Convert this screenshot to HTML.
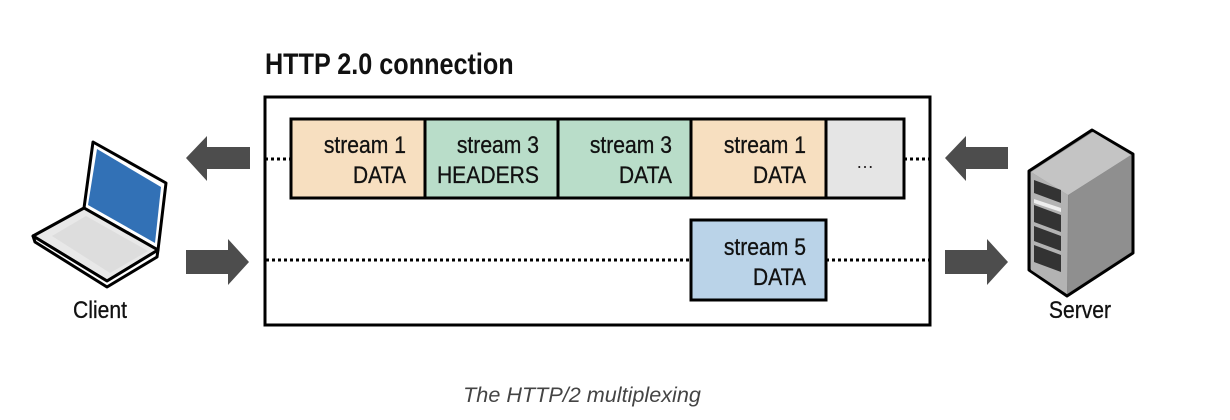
<!DOCTYPE html>
<html><head><meta charset="utf-8"><style>
html,body{margin:0;padding:0;background:#fff;}
svg{display:block}
.t{font-family:"Liberation Sans Narrow","Liberation Sans",sans-serif;font-size:24px;fill:#111;stroke:#111;stroke-width:0.3;}
</style></head><body>
<svg width="1230" height="420" viewBox="0 0 1230 420" xmlns="http://www.w3.org/2000/svg">
<text x="265" y="74" font-family="Liberation Sans Narrow, Liberation Sans, sans-serif" font-size="30" font-weight="bold" fill="#111" transform="translate(265,0) scale(0.84,1) translate(-265,0)">HTTP 2.0 connection</text>
<rect x="265" y="97" width="665" height="228" fill="none" stroke="#000" stroke-width="3"/>
<g stroke="#000" stroke-width="3" stroke-dasharray="3 3">
<line x1="265" y1="159" x2="291" y2="159"/>
<line x1="904" y1="159" x2="930" y2="159"/>
<line x1="266" y1="260" x2="691" y2="260"/>
<line x1="826" y1="260" x2="930" y2="260"/>
</g>
<g stroke="#000" stroke-width="3">
<rect x="291" y="119" width="134" height="79" fill="#f7dfc0"/>
<rect x="425" y="119" width="133" height="79" fill="#b9ddc9"/>
<rect x="558" y="119" width="133" height="79" fill="#b9ddc9"/>
<rect x="691" y="119" width="135" height="79" fill="#f7dfc0"/>
<rect x="826" y="119" width="78" height="79" fill="#e5e5e5"/>
<rect x="691" y="220" width="135" height="80" fill="#bad3e8"/>
</g>
<g class="t" text-anchor="end">
<text x="406" y="153" transform="translate(406,0) scale(0.88,1) translate(-406,0)">stream 1</text>
<text x="406" y="183" transform="translate(406,0) scale(0.88,1) translate(-406,0)">DATA</text>
<text x="539" y="153" transform="translate(539,0) scale(0.88,1) translate(-539,0)">stream 3</text>
<text x="539" y="183" transform="translate(539,0) scale(0.88,1) translate(-539,0)">HEADERS</text>
<text x="672" y="153" transform="translate(672,0) scale(0.88,1) translate(-672,0)">stream 3</text>
<text x="672" y="183" transform="translate(672,0) scale(0.88,1) translate(-672,0)">DATA</text>
<text x="806" y="153" transform="translate(806,0) scale(0.88,1) translate(-806,0)">stream 1</text>
<text x="806" y="183" transform="translate(806,0) scale(0.88,1) translate(-806,0)">DATA</text>
<text x="806" y="255" transform="translate(806,0) scale(0.88,1) translate(-806,0)">stream 5</text>
<text x="806" y="285" transform="translate(806,0) scale(0.88,1) translate(-806,0)">DATA</text>
</g>
<text x="865" y="168" text-anchor="middle" font-family="Liberation Sans" font-size="18" fill="#231f20">…</text>
<g fill="#4d4d4d">
<polygon points="186,158 207,136 207,147 250,147 250,169 207,169 207,181"/>
<polygon points="186,250 228,250 228,239 249,262 228,285 228,274 186,274"/>
<polygon points="945,158 966,136 966,147 1008,147 1008,169 966,169 966,181"/>
<polygon points="945,250 987,250 987,239 1008,262 987,285 987,274 945,274"/>
</g>
<!-- laptop -->
<g stroke="#000" stroke-width="3" stroke-linejoin="round">
<polygon points="93,142 166,183 158,250 84,208" fill="#fff"/>
<polygon points="33,236 84,208 158,250 107,281" fill="#e8e8e8"/>
<polygon points="33,236 35,242 107,287 157,257 158,250 107,281" fill="#fff"/>
</g>
<polygon points="97,149 161,187 155,243 88,205" fill="#3271b6"/>
<polygon points="52,236 86,216 148,251 110,273" fill="#ddd"/>
<text x="100" y="318" text-anchor="middle" class="t" transform="translate(100,0) scale(0.88,1) translate(-100,0)">Client</text>
<!-- server -->
<g stroke="#000" stroke-width="3" stroke-linejoin="round">
<polygon points="1029,171 1092,130 1133,154 1133,253 1067,296 1029,270" fill="#8a8a8a"/>
</g>
<polygon points="1031,172 1093,132 1131,155 1068,195" fill="#c4c4c4"/>
<polygon points="1031,172 1068,195 1067,294 1031,270" fill="#b3b3b3"/>
<polygon points="1069,195 1131,155 1131,252 1068,293" fill="#8f8f8f"/>
<g fill="#333">
<polygon points="1034,180 1061,190 1061,203 1034,193"/>
<polygon points="1034,205 1061,215 1061,232 1034,222"/>
<polygon points="1034,226 1061,236 1061,251 1034,241"/>
<polygon points="1034,245 1061,255 1061,272 1034,262"/>
</g>
<polygon points="1034,199 1061,208 1061,212 1034,203" fill="#eee"/>
<text x="1080" y="318" text-anchor="middle" class="t" transform="translate(1080,0) scale(0.88,1) translate(-1080,0)">Server</text>
<text x="582" y="402" text-anchor="middle" font-family="Liberation Sans" font-style="italic" font-size="21" fill="#444" transform="translate(582,0) scale(1.03,1) translate(-582,0)">The HTTP/2 multiplexing</text>
</svg>
</body></html>
